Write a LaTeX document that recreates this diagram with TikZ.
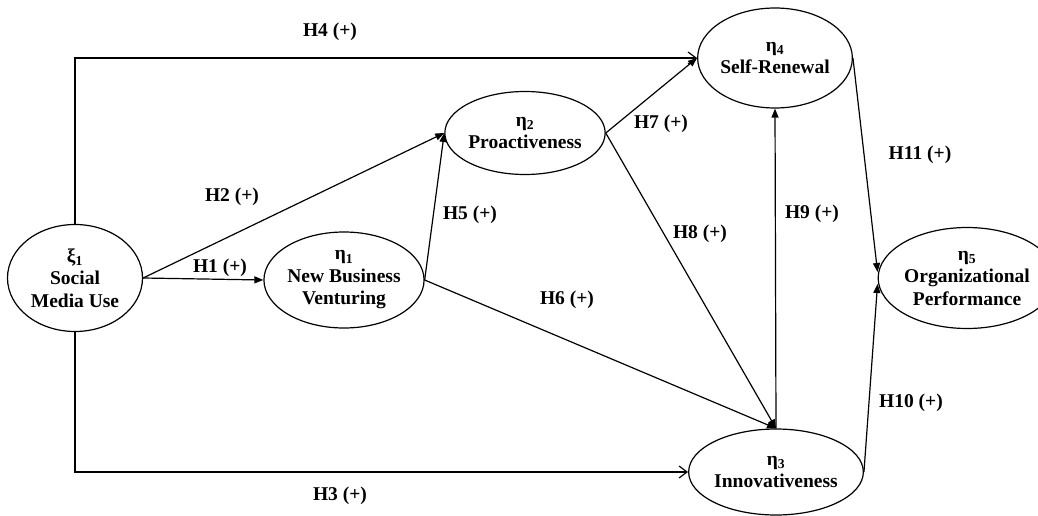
\documentclass[tikz,border=0pt]{standalone}
\usepackage{fontspec}
\setmainfont{Liberation Serif}
\usetikzlibrary{positioning, arrows.meta, shapes.geometric}

\begin{document}
\begin{tikzpicture}[x=1pt, y=-1pt, line width=1.2pt,
        every node/.style={font=\fontsize{19.5}{22.5}\selectfont\bfseries},
        construct/.style={draw, ellipse, inner sep=0pt, align=center},
        effect/.style={-{Triangle[length=9pt, width=7pt]}},
        direct/.style={-{Straight Barb[length=8pt, width=12pt]}}]
        \useasboundingbox (0,0) rectangle (1038,516);

        % Constructs
        \node (smu) [construct, minimum width=135pt, minimum height=107pt] at (75,278) {ξ\textsubscript{1}\\Social\\Media Use};
        \node (nbv) [construct, minimum width=143pt, minimum height=96pt] at (344,280) {η\textsubscript{1}\\New Business\\Venturing};
        \node (pro) [construct, minimum width=155pt, minimum height=83pt] at (525,133) {η\textsubscript{2}\\Proactiveness};
        \node (sr) [construct, minimum width=145pt, minimum height=100pt] at (775,58) {η\textsubscript{4}\\Self-Renewal};
        \node (inn) [construct, minimum width=144pt, minimum height=86pt] at (776,472) {η\textsubscript{3}\\Innovativeness};
        \node (op) [construct, minimum width=138pt, minimum height=101pt] at (967,278) {η\textsubscript{5}\\Organizational\\Performance};

        % Paths
        \draw[effect] (smu.east) -- (nbv.west);
        \draw[effect] (smu.east) -- (pro.west);
        \draw[direct] (smu.north) |- (sr.west);
        \draw[direct] (smu.south) |- (inn.west);
        \draw[effect] (nbv.east) -- (pro.west);
        \draw[effect] (nbv.east) -- (inn.north);
        \draw[effect] (pro.east) -- (sr.west);
        \draw[effect] (pro.east) -- (inn.north);
        \draw[effect] (inn.north) -- (sr.south);
        \draw[effect] (sr.east) -- ([yshift=6pt]op.west);
        \draw[effect] (inn.east) -- ([yshift=-6pt]op.west);

        % Hypotheses
        \node (h1) at (220,268) {H1 (+)};
        \node (h2) at (232,197) {H2 (+)};
        \node (h3) at (340,496) {H3 (+)};
        \node (h4) at (330,32) {H4 (+)};
        \node (h5) at (470,215) {H5 (+)};
        \node (h6) at (567,300) {H6 (+)};
        \node (h7) at (661,124) {H7 (+)};
        \node (h8) at (700,234) {H8 (+)};
        \node (h9) at (812,214) {H9 (+)};
        \node (h10) at (911,403) {H10 (+)};
        \node (h11) at (920,155) {H11 (+)};
    \end{tikzpicture}
\end{document}
